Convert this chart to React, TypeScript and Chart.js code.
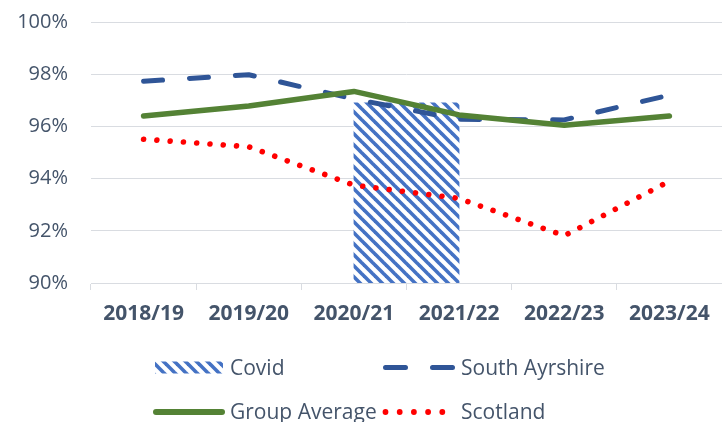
import React, { useEffect, useRef } from "react";
import { Chart, registerables } from "chart.js";

Chart.register(...registerables);

// ---------- data ----------
const categories = ["2018/19", "2019/20", "2020/21", "2021/22", "2022/23", "2023/24"];
const southAyrshire = [97.73, 97.98, 97.05, 96.27, 96.25, 97.2];
const groupAverage = [96.4, 96.78, 97.34, 96.44, 96.04, 96.4];
const scotland = [95.51, 95.22, 93.75, 93.24, 91.81, 93.9];
const covidFrom = "2020/21";
const covidTo = "2021/22";
const covidValue = 96.9;
const yTicks = [90, 92, 94, 96, 98, 100];
const seriesLabels = ["Covid", "South Ayrshire", "Group Average", "Scotland"];

// ---------- style ----------
const TEXT = "#44546A";
const GRID = "#D9DCE1";
const BLUE = "#2F5597";
const GREEN = "#548235";
const RED = "#FF0000";
const HATCH = "#4472C4";
const FONT = '"Open Sans", "DejaVu Sans", sans-serif';

function makeHatch(): CanvasPattern | string {
  const P = 11;
  const c = document.createElement("canvas");
  c.width = P;
  c.height = P;
  const g = c.getContext("2d");
  if (!g) return HATCH;
  g.fillStyle = "#FFFFFF";
  g.fillRect(0, 0, P, P);
  g.strokeStyle = HATCH;
  g.lineWidth = 3.6;
  for (let k = -1; k <= 1; k++) {
    g.beginPath();
    g.moveTo(k * P - 2, -2);
    g.lineTo(k * P + P + 2, P + 2);
    g.stroke();
  }
  const pat = g.createPattern(c, "repeat");
  return pat || HATCH;
}

// boundary slots (between categories) for the covid band axis
const boundaryLabels = [...categories.map((c) => "|" + c), "|end"];
const covidData = boundaryLabels.map((_, i) =>
  i === categories.indexOf(covidTo) && categories.indexOf(covidFrom) === i - 1 ? covidValue : null
);

const legendPlugin = {
  id: "customLegend",
  afterDraw(chart: any) {
    const ctx: CanvasRenderingContext2D = chart.ctx;
    const ds = chart.data.datasets;
    ctx.save();
    ctx.font = `21px ${FONT}`;
    ctx.fillStyle = TEXT;
    ctx.textAlign = "left";
    ctx.textBaseline = "alphabetic";
    const row1 = 367.5;
    const row2 = 412;
    const col1Sw = 153;
    const col1Tx = 230;
    const col2Sw = 383;
    const col2Tx = 461;

    // Covid swatch
    ctx.fillStyle = ds[0].backgroundColor;
    ctx.fillRect(col1Sw + 2, row1 - 6, 68, 12);
    ctx.fillStyle = TEXT;
    ctx.fillText(ds[0].label, col1Tx, row1 + 7);

    // South Ayrshire swatch
    ctx.strokeStyle = BLUE;
    ctx.lineWidth = 5;
    ctx.lineCap = "round";
    ctx.beginPath();
    ctx.moveTo(col2Sw + 2.5, row1);
    ctx.lineTo(col2Sw + 22.5, row1);
    ctx.moveTo(col2Sw + 49.5, row1);
    ctx.lineTo(col2Sw + 69.5, row1);
    ctx.stroke();
    ctx.fillText(ds[1].label, col2Tx, row1 + 7);

    // Group Average swatch
    ctx.strokeStyle = GREEN;
    ctx.lineWidth = 6;
    ctx.beginPath();
    ctx.moveTo(col1Sw + 3, row2);
    ctx.lineTo(col1Sw + 69, row2);
    ctx.stroke();
    ctx.fillText(ds[2].label, col1Tx, row2 + 7);

    // Scotland swatch
    ctx.fillStyle = RED;
    for (let i = 0; i < 5; i++) {
      ctx.beginPath();
      ctx.arc(col2Sw + 2.5 + i * 14.2, row2, 2.9, 0, Math.PI * 2);
      ctx.fill();
    }
    ctx.fillStyle = TEXT;
    ctx.fillText(ds[3].label, col2Tx, row2 + 7);
    ctx.restore();
  },
};

export default function App() {
  const ref = useRef<HTMLCanvasElement | null>(null);

  useEffect(() => {
    if (!ref.current) return;
    const hatch = makeHatch();
    const chart = new Chart(ref.current, {
      type: "line",
      data: {
        labels: categories,
        datasets: [
          {
            type: "bar",
            label: seriesLabels[0],
            data: covidData,
            xAxisID: "x2",
            yAxisID: "y",
            backgroundColor: hatch as any,
            borderWidth: 0,
            barPercentage: 1,
            categoryPercentage: 1,
            grouped: false,
            order: 10,
          } as any,
          {
            label: seriesLabels[1],
            data: southAyrshire,
            xAxisID: "x",
            borderColor: BLUE,
            borderWidth: 5,
            borderDash: [19, 27],
            borderCapStyle: "round",
            borderJoinStyle: "round",
            pointRadius: 0,
            tension: 0,
            fill: false,
            order: 3,
          },
          {
            label: seriesLabels[2],
            data: groupAverage,
            xAxisID: "x",
            borderColor: GREEN,
            borderWidth: 5.5,
            borderCapStyle: "round",
            borderJoinStyle: "round",
            pointRadius: 0,
            tension: 0,
            fill: false,
            order: 1,
          },
          {
            label: seriesLabels[3],
            data: scotland,
            xAxisID: "x",
            borderColor: RED,
            borderWidth: 5.6,
            borderDash: [0.01, 13.3],
            borderCapStyle: "round",
            pointRadius: 0,
            tension: 0,
            fill: false,
            order: 2,
          },
        ],
      },
      options: {
        responsive: false,
        animation: false,
        devicePixelRatio: 1,
        layout: { padding: { top: 22, right: 0, bottom: 0, left: 0 } },
        plugins: {
          legend: { display: false },
          tooltip: { enabled: false },
        },
        scales: {
          x: {
            type: "category",
            offset: true,
            grid: {
              offset: true,
              drawOnChartArea: false,
              drawTicks: true,
              tickLength: 7,
              color: GRID,
            },
            border: { display: true, color: GRID, width: 1 },
            ticks: {
              color: TEXT,
              font: { family: FONT, size: 21, weight: "bold" },
              padding: 11,
              maxRotation: 0,
              autoSkip: false,
            },
            afterFit: (s: any) => {
              s.height = 139;
            },
          },
          x2: {
            type: "category",
            labels: boundaryLabels,
            offset: false,
            display: false,
            grid: { display: false },
          },
          y: {
            type: "linear",
            min: yTicks[0],
            max: yTicks[yTicks.length - 1],
            afterBuildTicks: (s: any) => {
              s.ticks = yTicks.map((v) => ({ value: v }));
            },
            grid: {
              color: GRID,
              lineWidth: 1,
              drawTicks: true,
              tickLength: 23,
              tickColor: "rgba(0,0,0,0)",
            },
            border: { display: false },
            ticks: {
              color: TEXT,
              font: { family: FONT, size: 20 },
              padding: 0,
              callback: (v: any) => `${v}%`,
            },
            afterFit: (s: any) => {
              s.width = 91;
            },
          },
        },
      },
      plugins: [legendPlugin],
    });
    return () => chart.destroy();
  }, []);

  return (
    <div style={{ position: "fixed", left: 0, top: 0, width: 722, height: 422, background: "#fff" }}>
      <canvas ref={ref} width={722} height={422} style={{ display: "block" }} />
    </div>
  );
}
